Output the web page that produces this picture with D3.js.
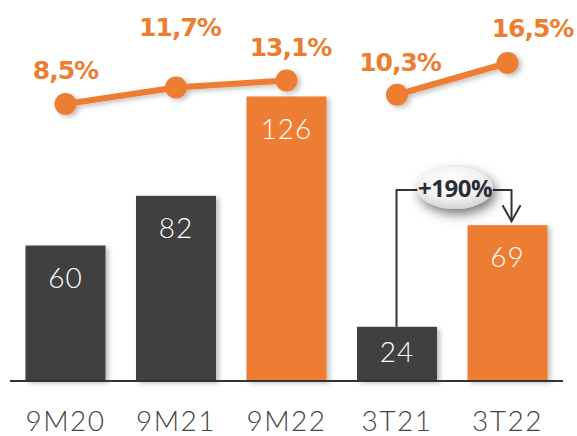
<!DOCTYPE html>
<html><head><meta charset="utf-8">
<script src="https://cdn.jsdelivr.net/npm/d3@7"></script>
<style>body{margin:0;background:#fff}svg{display:block}</style>
</head><body>
<script>
const categories = ["9M20","9M21","9M22","3T21","3T22"];
const values = [60, 82, 126, 24, 69];
const highlight = [false, false, true, false, true];
const margins = [8.5, 11.7, 13.1, 10.3, 16.5];
const marginLabels = ["8,5%","11,7%","13,1%","10,3%","16,5%"];
const lineGroups = [[0,1,2],[3,4]];
const growthLabel = "+190%";

const W = 577, H = 436;
const svg = d3.select("body").append("svg").attr("width", W).attr("height", H);
const defs = svg.append("defs");
const sh = defs.append("filter").attr("id","sh").attr("x","-20%").attr("y","-20%").attr("width","150%").attr("height","150%");
sh.append("feDropShadow").attr("dx",3).attr("dy",2).attr("stdDeviation",2.5).attr("flood-color","#000").attr("flood-opacity",0.25);
const sh2 = defs.append("filter").attr("id","sh2").attr("x","-60%").attr("y","-60%").attr("width","220%").attr("height","220%");
sh2.append("feDropShadow").attr("dx",3).attr("dy",5).attr("stdDeviation",6).attr("flood-color","#000").attr("flood-opacity",0.55);
const grad = defs.append("radialGradient").attr("id","eg").attr("cx","45%").attr("cy","35%").attr("r","70%");
grad.append("stop").attr("offset","0%").attr("stop-color","#ffffff");
grad.append("stop").attr("offset","55%").attr("stop-color","#f3f3f3");
grad.append("stop").attr("offset","100%").attr("stop-color","#cfcfcf");

const DARK = "#404040", ORANGE = "#ED7D31";
const x = d3.scaleBand().domain(categories).range([10, 563]).paddingInner(0.276).paddingOuter(0.14);
const baseY = 381;
const y = d3.scaleLinear().domain([0, 126]).range([baseY, 96.5]);
const yp = d3.scaleLinear().domain([0, 16.5]).range([147.5, 63]);

// bars
svg.append("g").selectAll("rect").data(categories).join("rect")
  .attr("x", d => x(d)).attr("width", x.bandwidth())
  .attr("y", (d,i) => y(values[i])).attr("height", (d,i) => baseY - y(values[i]))
  .attr("fill", (d,i) => highlight[i] ? ORANGE : DARK)
  .attr("filter","url(#sh)");

// value labels
svg.append("g").selectAll("text").data(categories).join("text")
  .attr("x", d => x(d) + x.bandwidth()/2)
  .attr("y", (d,i) => Math.min(y(values[i]) + 42, baseY - 19))
  .attr("text-anchor","middle").attr("fill","#fff")
  .attr("font-family","Lato, 'Open Sans', sans-serif").attr("font-weight",300)
  .attr("font-size",28).attr("letter-spacing",1).text((d,i) => values[i]);

// axis
const axis = d3.axisBottom(x).tickSize(0).tickPadding(0);
const ag = svg.append("g").attr("transform",`translate(0,${baseY})`).call(axis);
ag.select(".domain").attr("d","M10,0H563").attr("stroke","#333").attr("stroke-width",2);
ag.selectAll("text").attr("dy",0).attr("y",50).attr("fill","#444")
  .attr("font-family","Lato, 'Open Sans', sans-serif").attr("font-weight",300).attr("font-size",28)
  .attr("letter-spacing",1.5);

// annotation bracket
const xa = x("3T21") + x.bandwidth()/2 - 0.5, xb = x("3T22") + x.bandwidth()/2 + 4;
const ya = y(values[3]), yTop = 190, yb = y(values[4]) - 4;
svg.append("path").attr("d",`M${xa},${ya}V${yTop}H${xb}V${yb}`)
  .attr("fill","none").attr("stroke","#333").attr("stroke-width",2);
svg.append("path").attr("d",`M${xb-9},${yb-16}L${xb},${yb}L${xb+9},${yb-16}`)
  .attr("fill","none").attr("stroke","#333").attr("stroke-width",2);
const ex = 455, ey = 188;
svg.append("ellipse").attr("cx",ex).attr("cy",ey).attr("rx",38).attr("ry",21)
  .attr("fill","url(#eg)").attr("filter","url(#sh2)");
svg.append("text").attr("x",ex).attr("y",ey+9).attr("text-anchor","middle")
  .attr("fill","#2b2f33").attr("font-family","'Open Sans', Lato, sans-serif").attr("font-weight",700)
  .attr("font-size",24).attr("letter-spacing",-0.5).text(growthLabel);

// lines
const cx = i => x(categories[i]) + x.bandwidth()/2;
const line = d3.line().x(i => cx(i)).y(i => yp(margins[i]));
const lg = svg.append("g").attr("filter","url(#sh)");
lineGroups.forEach(g => {
  lg.append("path").attr("d", line(g)).attr("fill","none").attr("stroke",ORANGE).attr("stroke-width",6);
  lg.selectAll(null).data(g).join("circle").attr("cx", cx).attr("cy", i => yp(margins[i])).attr("r",11).attr("fill",ORANGE);
});
const labelShift = [[0,-25],[4,-52],[4,-24],[3,-24],[25,-26]];
svg.append("g").selectAll("text").data(categories).join("text")
  .attr("x",(d,i) => cx(i) + labelShift[i][0])
  .attr("y",(d,i) => yp(margins[i]) + labelShift[i][1])
  .attr("text-anchor","middle").attr("fill",ORANGE)
  .attr("font-family","'DejaVu Sans', sans-serif").attr("font-weight",700)
  .attr("font-size",25).attr("letter-spacing",-1).text((d,i) => marginLabels[i]);
</script>
</body></html>
